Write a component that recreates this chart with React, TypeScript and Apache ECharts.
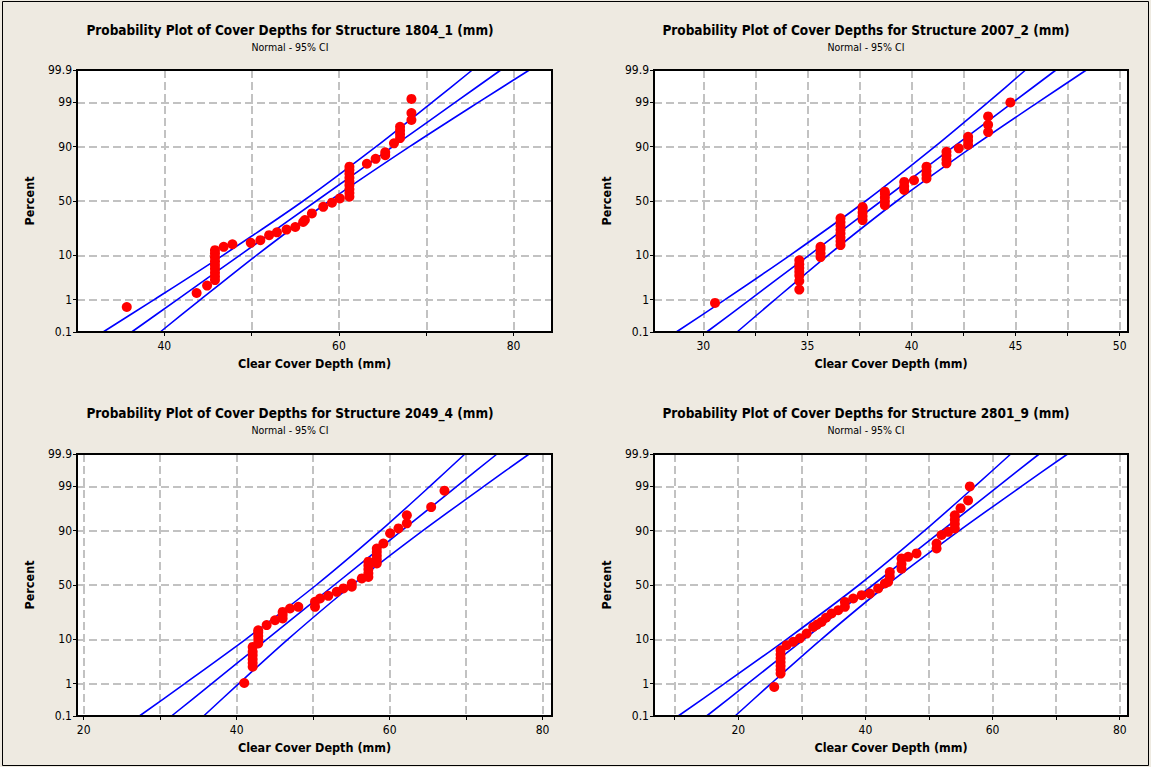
import React, { useEffect, useRef } from "react";
import * as echarts from "echarts";

// ---------- data ----------
const PCT_TICKS = [0.1, 1, 10, 50, 90, 99, 99.9];
const PCT_LABELS = ["0.1", "1", "10", "50", "90", "99", "99.9"];
const CI_PCTS = [0.1, 1, 10, 50, 90, 99, 99.9];

const TITLES = [
  "Probability Plot of Cover Depths for Structure 1804_1 (mm)",
  "Probability Plot of Cover Depths for Structure 2007_2 (mm)",
  "Probability Plot of Cover Depths for Structure 2049_4 (mm)",
  "Probability Plot of Cover Depths for Structure 2801_9 (mm)",
];
const SUBTITLE = "Normal - 95% CI";
const X_NAME = "Clear Cover Depth (mm)";
const Y_NAME = "Percent";

const X_MIN = [30, 27.63, 19.12, 6.75];
const X_MAX = [84.4, 50.4, 81.23, 81.3];
const X_GRID = [
  [40, 50, 60, 70, 80],
  [30, 32.5, 35, 37.5, 40, 42.5, 45, 47.5, 50],
  [20, 30, 40, 50, 60, 70, 80],
  [10, 20, 30, 40, 50, 60, 70, 80],
];
const X_LABELS = [
  [40, 60, 80],
  [30, 35, 40, 45, 50],
  [20, 40, 60, 80],
  [20, 40, 60, 80],
];

// [depth, percent]
const POINTS_1804 = [
  [35.7, 0.62], [43.7, 1.5], [44.9, 2.3],
  [45.8, 3.1], [45.8, 3.75], [45.8, 4.55], [45.8, 5.5], [45.8, 6.55], [45.8, 7.8], [45.8, 9.2], [45.8, 10.75], [45.8, 12.3],
  [46.8, 14], [47.8, 15.4], [49.9, 16.2], [51.0, 17.8], [52.0, 21], [52.9, 23], [54.0, 25], [55.0, 27],
  [55.9, 31], [56.1, 32.6], [56.9, 38.5], [58.2, 44.5], [59.2, 48.4], [60.1, 52.4],
  [61.2, 54], [61.2, 57.5], [61.2, 61], [61.2, 64.4], [61.2, 67.7], [61.2, 70.9], [61.2, 73.9], [61.2, 76.7], [61.2, 79.1],
  [63.2, 81], [64.2, 84], [65.3, 86], [65.3, 87.5], [66.3, 91.3],
  [67.0, 93.1], [67.0, 94.2], [67.0, 95.2], [67.0, 96.0],
  [68.3, 97.2], [68.3, 98.1], [68.3, 99.2],
];
const POINTS_2007 = [
  [30.56, 0.81],
  [34.61, 1.83], [34.61, 2.97], [34.61, 3.92], [34.61, 4.75], [34.61, 5.7], [34.61, 6.8], [34.61, 8.1],
  [35.63, 9.3], [35.63, 10.9], [35.63, 12.7], [35.63, 14.0],
  [36.59, 14.9], [36.59, 17.1], [36.59, 19.5], [36.59, 22.1], [36.59, 24.8], [36.59, 27.8], [36.59, 30.9], [36.59, 34.1],
  [37.65, 32.6], [37.65, 35.9], [37.65, 39.4], [37.65, 42.9], [37.65, 44.4],
  [38.72, 46], [38.72, 49.6], [38.72, 53.2], [38.72, 56.7], [38.72, 58.7],
  [39.65, 60.3], [39.65, 63.7], [39.65, 67.4],
  [40.12, 68.8],
  [40.72, 70.2], [40.72, 73.2], [40.72, 76.1], [40.72, 79.1],
  [41.68, 81.3], [41.68, 83.6], [41.68, 85.8], [41.68, 87.7],
  [42.27, 89.3],
  [42.72, 90.7], [42.72, 92.2], [42.72, 93.5],
  [43.68, 94.8], [43.68, 96.4], [43.68, 97.7],
  [44.75, 99.0],
];
const POINTS_2049 = [
  [40.99, 1.04],
  [42.09, 2.7], [42.09, 3.3], [42.09, 4.0], [42.09, 4.85], [42.09, 5.8], [42.09, 7.2],
  [42.82, 8.4], [42.82, 9.85], [42.82, 11.5], [42.82, 13.1], [42.82, 14.3],
  [43.92, 17.2], [45.01, 20.3], [46.01, 21.5], [46.01, 24], [46.01, 26.3], [46.97, 29], [48.06, 30.3],
  [50.24, 30.3], [50.24, 34.6], [50.9, 37.5], [51.98, 39.9], [53.08, 43.6], [53.95, 46.8], [55.05, 48.4], [55.05, 51.4], [56.36, 56.2],
  [57.22, 57.5], [57.22, 61], [57.22, 64.4], [57.22, 67.7], [57.22, 70.9],
  [58.32, 69.5], [58.32, 72.6], [58.32, 75.5], [58.32, 78.2], [58.32, 80.5],
  [59.18, 83.6], [60.06, 88.9], [61.15, 90.9], [62.25, 92.7], [62.25, 95], [65.43, 96.7], [67.17, 98.7],
];
const POINTS_2801 = [
  [25.66, 0.81],
  [26.66, 1.83], [26.66, 2.28], [26.66, 2.8], [26.66, 3.44], [26.66, 4.18], [26.66, 5.05], [26.66, 6.2],
  [27.6, 7.8], [28.65, 9], [29.7, 10.4], [30.75, 12.6], [31.79, 16.1], [32.4, 17.5], [33.1, 19.2], [33.8, 22], [34.68, 25.1],
  [35.72, 27.6], [36.77, 30.3], [36.77, 34.5], [38.08, 37.5], [39.4, 40.5], [40.7, 42], [42.0, 46.8], [43.06, 51.4],
  [43.58, 53], [43.84, 57.6], [43.84, 62], [45.68, 65], [45.68, 69], [45.68, 73.5], [46.72, 74.7], [48.04, 77.2],
  [51.19, 80.6], [51.19, 83.6], [51.97, 88.1], [53.01, 89.5],
  [54.06, 90.9], [54.06, 92.5], [54.06, 93.8], [54.06, 95],
  [54.96, 96.5], [56.15, 97.7], [56.42, 99],
];
const POINTS = [POINTS_1804, POINTS_2007, POINTS_2049, POINTS_2801];

// fitted line and 95% CI bounds, depth at each CI_PCTS percent
const FIT = [
  [36.26, 41.49, 48.63, 57.4, 66.17, 73.31, 78.54],
  [30.16, 32.24, 35.07, 38.55, 42.03, 44.87, 46.94],
  [31.48, 36.74, 43.93, 52.76, 61.58, 68.78, 74.04],
  [15.03, 21.49, 30.33, 41.18, 52.03, 60.87, 67.33],
];
const CI_LEFT = [
  [32.99, 38.84, 46.71, 55.9, 64.25, 70.66, 75.27],
  [28.7, 31.04, 34.16, 37.8, 41.12, 43.67, 45.48],
  [27.28, 33.21, 41.17, 50.41, 58.82, 65.25, 69.84],
  [10.56, 17.83, 27.6, 38.98, 49.3, 57.21, 62.86],
];
const CI_RIGHT = [
  [39.53, 44.14, 50.55, 58.9, 68.09, 75.96, 81.81],
  [31.62, 33.44, 35.98, 39.3, 42.94, 46.07, 48.4],
  [35.68, 40.27, 46.69, 55.11, 64.34, 72.31, 78.24],
  [19.5, 25.15, 33.06, 43.38, 54.76, 64.53, 71.8],
];

// ---------- layout ----------
const GRIDS = [
  { left: 77, top: 70, width: 475, height: 262 },
  { left: 654, top: 70, width: 474, height: 262 },
  { left: 77, top: 454, width: 475, height: 262 },
  { left: 654, top: 454, width: 474, height: 262 },
];
const TITLE_POS = [
  [290, 30],
  [866, 30],
  [290, 413],
  [866, 413],
];

const FONT = 'Tahoma, "DejaVu Sans Condensed", "DejaVu Sans", sans-serif';
const BG = "#EEEAE1";

// inverse standard normal CDF (probability axis scale)
function invNorm(p: number): number {
  const a = [-3.969683028665376e1, 2.209460984245205e2, -2.759285104469687e2, 1.38357751867269e2, -3.066479806614716e1, 2.506628277459239];
  const b = [-5.447609879822406e1, 1.615858368580409e2, -1.556989798598866e2, 6.680131188771972e1, -1.328068155288572e1];
  const c = [-7.784894002430293e-3, -3.223964580411365e-1, -2.400758277161838, -2.549732539343734, 4.374664141464968, 2.938163982698783];
  const d = [7.784695709041462e-3, 3.224671290700398e-1, 2.445134137142996, 3.754408661907416];
  const pl = 0.02425;
  if (p < pl) {
    const q = Math.sqrt(-2 * Math.log(p));
    return (((((c[0] * q + c[1]) * q + c[2]) * q + c[3]) * q + c[4]) * q + c[5]) / ((((d[0] * q + d[1]) * q + d[2]) * q + d[3]) * q + 1);
  }
  if (p <= 1 - pl) {
    const q = p - 0.5;
    const r = q * q;
    return ((((((a[0] * r + a[1]) * r + a[2]) * r + a[3]) * r + a[4]) * r + a[5]) * q) / (((((b[0] * r + b[1]) * r + b[2]) * r + b[3]) * r + b[4]) * r + 1);
  }
  const q = Math.sqrt(-2 * Math.log(1 - p));
  return -(((((c[0] * q + c[1]) * q + c[2]) * q + c[3]) * q + c[4]) * q + c[5]) / ((((d[0] * q + d[1]) * q + d[2]) * q + d[3]) * q + 1);
}
const zOf = (pct: number) => invNorm(pct / 100);
const Z_TICKS = PCT_TICKS.map(zOf);

function buildOption() {
  const grid: any[] = [];
  const xAxis: any[] = [];
  const yAxis: any[] = [];
  const series: any[] = [];
  const graphic: any[] = [];

  const gridLineStyle = { color: "#C2C2C2", width: 2, type: [8, 4] };
  const nameStyle = { color: "#000", fontSize: 12.5, fontWeight: "bold", fontFamily: FONT };

  GRIDS.forEach((g, i) => {
    grid.push({ ...g, show: true, backgroundColor: "#FFFFFF", borderColor: "#000000", borderWidth: 2, z: 0 });
    xAxis.push({
      type: "value",
      gridIndex: i,
      min: X_MIN[i],
      max: X_MAX[i],
      axisLine: { show: true, onZero: false, lineStyle: { color: "#000", width: 2 } },
      axisTick: { show: true, length: 4, customValues: X_GRID[i], lineStyle: { color: "#000", width: 1 } },
      axisLabel: { customValues: X_LABELS[i], color: "#000", fontSize: 12, fontFamily: FONT, margin: 8 },
      splitLine: { show: true, lineStyle: gridLineStyle },
      name: X_NAME,
      nameLocation: "middle",
      nameGap: 25,
      nameTextStyle: nameStyle,
    });
    yAxis.push({
      type: "value",
      gridIndex: i,
      min: Z_TICKS[0],
      max: Z_TICKS[Z_TICKS.length - 1],
      axisLine: { show: true, onZero: false, lineStyle: { color: "#000", width: 2 } },
      axisTick: { show: true, length: 4, customValues: Z_TICKS, lineStyle: { color: "#000", width: 1 } },
      axisLabel: {
        customValues: Z_TICKS,
        color: "#000",
        fontSize: 12,
        fontFamily: FONT,
        margin: 5,
        formatter: (v: number) => {
          let best = 0;
          Z_TICKS.forEach((t, k) => {
            if (Math.abs(t - v) < Math.abs(Z_TICKS[best] - v)) best = k;
          });
          return PCT_LABELS[best];
        },
      },
      splitLine: { show: true, lineStyle: gridLineStyle },
      name: Y_NAME,
      nameLocation: "middle",
      nameGap: 41,
      nameTextStyle: nameStyle,
    });

    const lineSeries = (xs: number[]) => ({
      type: "line",
      xAxisIndex: i,
      yAxisIndex: i,
      data: xs.map((x, k) => [x, zOf(CI_PCTS[k])]),
      symbol: "none",
      showSymbol: false,
      smooth: 0.25,
      lineStyle: { color: "#0000FF", width: 1.6 },
      z: 3,
      silent: true,
    });
    series.push(lineSeries(CI_LEFT[i]));
    series.push(lineSeries(FIT[i]));
    series.push(lineSeries(CI_RIGHT[i]));
    series.push({
      type: "scatter",
      xAxisIndex: i,
      yAxisIndex: i,
      data: POINTS[i].map(([x, p]) => [x, zOf(p)]),
      symbol: "circle",
      symbolSize: 10,
      itemStyle: { color: "#FF0000", opacity: 1 },
      z: 5,
      silent: true,
    });

    // plot-area frame on top of the dashed grid lines
    graphic.push({
      type: "rect",
      shape: { x: g.left, y: g.top, width: g.width, height: g.height },
      style: { fill: "none", stroke: "#000", lineWidth: 2 },
      silent: true,
      z: 100,
    });

    graphic.push({
      type: "text",
      x: TITLE_POS[i][0],
      y: TITLE_POS[i][1],
      style: {
        text: TITLES[i],
        font: `bold 13.5px ${FONT}`,
        fill: "#000",
        textAlign: "center",
        textVerticalAlign: "middle",
      },
    });
    graphic.push({
      type: "text",
      x: TITLE_POS[i][0],
      y: TITLE_POS[i][1] + 17,
      style: {
        text: SUBTITLE,
        font: `10.5px ${FONT}`,
        fill: "#000",
        textAlign: "center",
        textVerticalAlign: "middle",
      },
    });
  });

  graphic.push({
    type: "rect",
    shape: { x: 2.5, y: 1.5, width: 1146, height: 764 },
    style: { fill: "none", stroke: "#000", lineWidth: 1 },
    silent: true,
  });

  return {
    animation: false,
    backgroundColor: BG,
    grid,
    xAxis,
    yAxis,
    series,
    graphic,
  };
}

export default function App() {
  const ref = useRef<HTMLDivElement>(null);
  useEffect(() => {
    document.body.style.margin = "0";
    if (!ref.current) return;
    const chart = echarts.init(ref.current, undefined, { renderer: "svg" });
    chart.setOption(buildOption() as any);
    return () => chart.dispose();
  }, []);
  return <div ref={ref} style={{ width: 1151, height: 767 }} />;
}
